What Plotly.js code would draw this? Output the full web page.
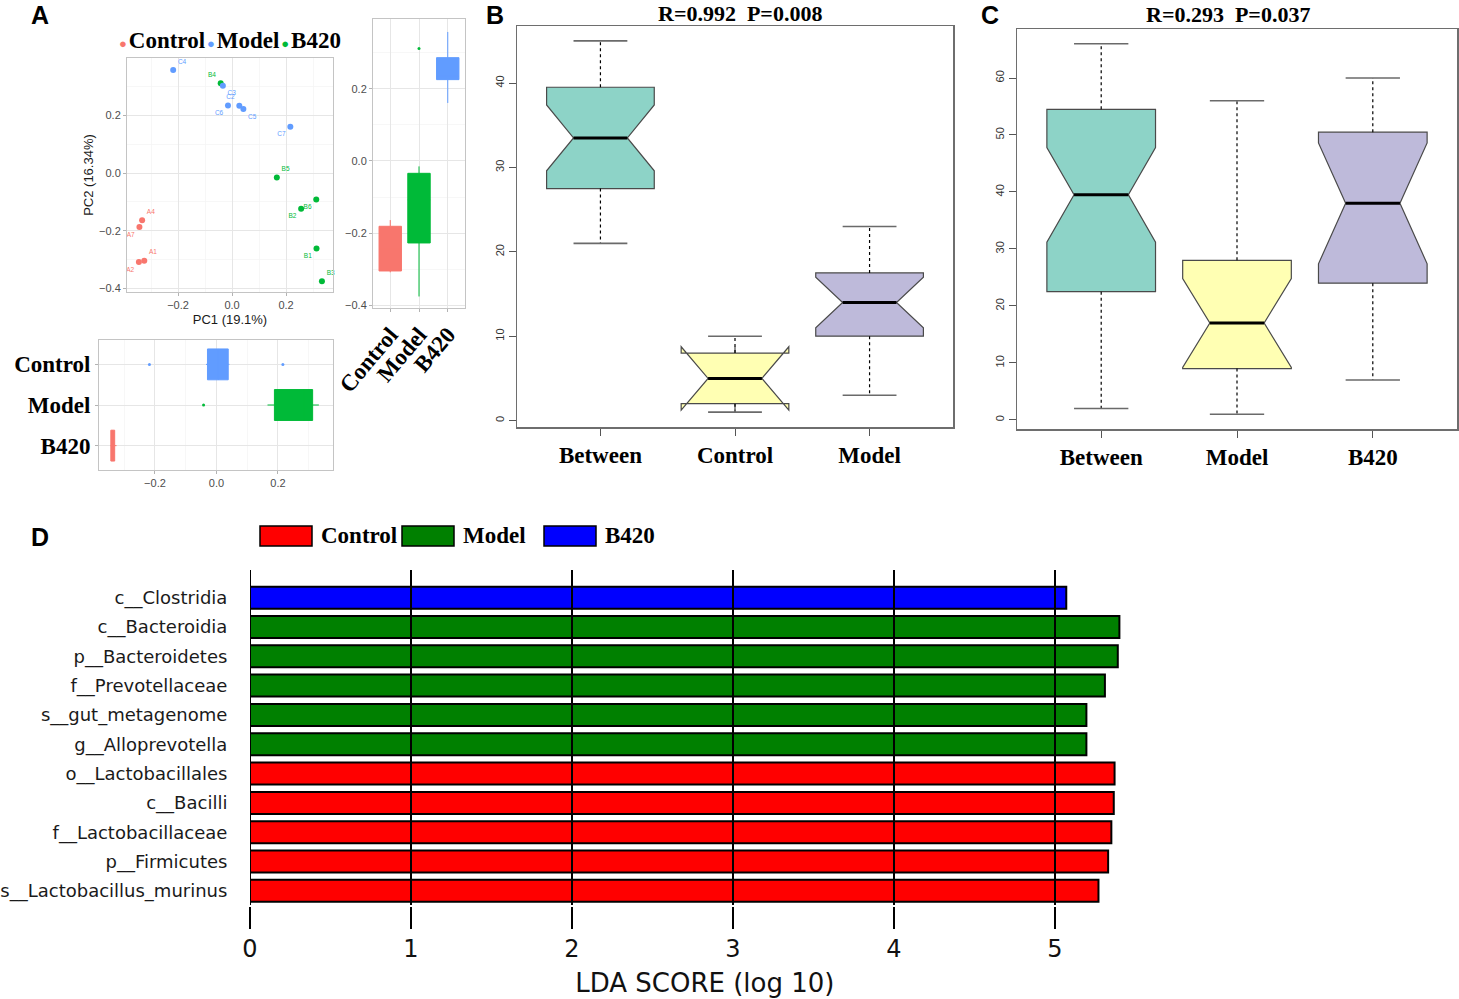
<!DOCTYPE html>
<html><head><meta charset="utf-8">
<script src="https://cdn.plot.ly/plotly-3.0.1.min.js"></script>
<style>html,body{margin:0;padding:0;background:#fff}#chart{width:1459px;height:999px}</style>
</head><body><div id="chart"></div>
<script>
// ---------------- Panel A : PCoA scores ----------------
const controlLabels = ['A4','A7','A1','A2'];
const controlPC1 = [-0.333,-0.343,-0.325,-0.345];
const controlPC2 = [-0.164,-0.187,-0.304,-0.309];
const modelLabels = ['C4','C3','C6','C2','C5','C7'];
const modelPC1 = [-0.218,-0.034,-0.015,0.027,0.042,0.216];
const modelPC2 = [0.358,0.304,0.235,0.234,0.223,0.161];
const b420Labels = ['B4','B5','B6','B2','B1','B3'];
const b420PC1 = [-0.042,0.166,0.312,0.256,0.313,0.333];
const b420PC2 = [0.312,-0.015,-0.092,-0.124,-0.262,-0.376];
const legendOrder = ['Control','Model','B420'];
// marginal boxplots: axis category -> group whose scores are shown (as in the figure)
const marginCats = ['Control','Model','B420'];
const pc2BoxSource = ['Control','B420','Model'];
const pc1BoxSource = ['Model','B420','Control'];

// ---------------- Panel B : ANOSIM distances ----------------
const bTitle = 'R=0.992\u00a0\u00a0P=0.008';
const bCats = ['Between','Control','Model'];
const bMin = [21,1,3];
const bQ1 = [27.5,2,10];
const bMed = [33.5,5,14];
const bQ3 = [39.5,8,17.5];
const bMax = [45,10,23];
const bNotch = [3.9,3.75,3.0];
const bTicks = [0,10,20,30,40];

// ---------------- Panel C : ANOSIM distances ----------------
const cTitle = 'R=0.293\u00a0\u00a0P=0.037';
const cCats = ['Between','Model','B420'];
const cMin = [2,1,7];
const cQ1 = [22.5,9,24];
const cMed = [39.5,17,38];
const cQ3 = [54.5,28,50.5];
const cMax = [66,56,60];
const cNotch = [8.3,7.8,10.6];
const cTicks = [0,10,20,30,40,50,60];

// ---------------- Panel D : LEfSe ----------------
const taxa = ['c__Clostridia','c__Bacteroidia','p__Bacteroidetes','f__Prevotellaceae','s__gut_metagenome','g__Alloprevotella','o__Lactobacillales','c__Bacilli','f__Lactobacillaceae','p__Firmicutes','s__Lactobacillus_murinus'];
const ldaScore = [5.07,5.40,5.39,5.31,5.195,5.195,5.37,5.365,5.35,5.33,5.27];
const taxaGroup = ['B420','Model','Model','Model','Model','Model','Control','Control','Control','Control','Control'];
const ldaTicks = [0,1,2,3,4,5];
const ldaGroups = ['Control','Model','B420'];

// ---------------- styles ----------------
const ggColors = {Control:'#F8766D', Model:'#619CFF', B420:'#00BA38'};
const ldaColors = {Control:'#FF0000', Model:'#008000', B420:'#0000FF'};
const boxFill = ['#8DD3C7','#FFFFB3','#BEBADA'];
const textPos = {
  Control:['top right','bottom left','top right','bottom left'],
  Model:['top right','bottom right','bottom left','top left','bottom right','bottom left'],
  B420:['top left','top right','bottom left','bottom left','bottom left','top right']
};
const W = 1459, H = 999;
const P = v => v / W, Q = v => 1 - v / H;
const SERIF = 'Liberation Serif, Times New Roman, serif';
const SANS = 'Liberation Sans, Arial, sans-serif';
const DJ = 'DejaVu Sans, sans-serif';
const serifBold = s => ({family: SERIF, size: s, weight: 700, color: '#000'});

const groups = {
  Control: {pc1: controlPC1, pc2: controlPC2, labels: controlLabels},
  Model: {pc1: modelPC1, pc2: modelPC2, labels: modelLabels},
  B420: {pc1: b420PC1, pc2: b420PC2, labels: b420Labels}
};

// ggplot2-style box statistics (R quantile type 7, 1.5*IQR whiskers)
function q7(arr, p) {
  const s = [...arr].sort((a, b) => a - b), h = (s.length - 1) * p, lo = Math.floor(h);
  return s[lo] + (h - lo) * (s[Math.min(lo + 1, s.length - 1)] - s[lo]);
}
function boxStats(v) {
  const q1 = q7(v, 0.25), med = q7(v, 0.5), q3 = q7(v, 0.75), iqr = q3 - q1;
  const lo = q1 - 1.5 * iqr, hi = q3 + 1.5 * iqr;
  const inside = v.filter(x => x >= lo && x <= hi);
  return {q1, med, q3, lf: Math.min(...inside), uf: Math.max(...inside), out: v.filter(x => x < lo || x > hi)};
}

const traces = [];
// scatter
['Control','B420','Model'].forEach(g => {
  traces.push({type:'scatter', mode:'markers+text', xaxis:'x', yaxis:'y',
    x: groups[g].pc1, y: groups[g].pc2, text: groups[g].labels,
    textposition: textPos[g], textfont:{family:SANS, size:6.5, color:ggColors[g]},
    marker:{color:ggColors[g], size:6}, hoverinfo:'skip', cliponaxis:false});
});
// marginal PC2 (right, vertical) and PC1 (bottom, horizontal)
function marginBox(cat, g, values, horiz) {
  const s = boxStats(values), c = ggColors[g];
  const box = {type:'box', q1:[s.q1], median:[s.med], q3:[s.q3], lowerfence:[s.lf], upperfence:[s.uf],
    fillcolor:c, line:{color:c, width:1}, whiskerwidth:0, boxpoints:false, hoverinfo:'skip'};
  const pts = {type:'scatter', mode:'markers', marker:{color:c, size:3}, hoverinfo:'skip'};
  if (horiz) {
    Object.assign(box, {orientation:'h', xaxis:'x3', yaxis:'y3', y:[cat], width:0.76});
    Object.assign(pts, {xaxis:'x3', yaxis:'y3', x:s.out, y:s.out.map(() => cat)});
  } else {
    Object.assign(box, {xaxis:'x2', yaxis:'y2', x:[cat], width:0.78});
    Object.assign(pts, {xaxis:'x2', yaxis:'y2', y:s.out, x:s.out.map(() => cat)});
  }
  traces.push(box, pts);
}
marginCats.forEach((cat, i) => marginBox(cat, pc2BoxSource[i], groups[pc2BoxSource[i]].pc2, false));
marginCats.forEach((cat, i) => marginBox(cat, pc1BoxSource[i], groups[pc1BoxSource[i]].pc1, true));

function notchedPanel(xa, ya, mins, q1, med, q3, maxs, notch) {
  q1.forEach((_, i) => {
    traces.push({type:'box', xaxis:xa, yaxis:ya, x:[i], q1:[q1[i]], median:[med[i]], q3:[q3[i]],
      lowerfence:[q1[i]], upperfence:[q3[i]], notched:true, notchspan:[notch[i]], notchwidth:0.25,
      width:0.8, fillcolor: boxFill[i], line:{color:'#4a4a4a', width:1.2}, whiskerwidth:0,
      boxpoints:false, hoverinfo:'skip'});
  });
  const wx = [], wy = [], cx = [], cy = [], mx = [], my = [];
  q1.forEach((_, i) => {
    wx.push(i, i, null, i, i, null); wy.push(q3[i], maxs[i], null, q1[i], mins[i], null);
    cx.push(i - 0.2, i + 0.2, null, i - 0.2, i + 0.2, null); cy.push(maxs[i], maxs[i], null, mins[i], mins[i], null);
    mx.push(i - 0.2, i + 0.2, null); my.push(med[i], med[i], null);
  });
  traces.push({type:'scatter', mode:'lines', xaxis:xa, yaxis:ya, x:wx, y:wy,
    line:{color:'#000', width:1.2, dash:'dot'}, hoverinfo:'skip'});
  traces.push({type:'scatter', mode:'lines', xaxis:xa, yaxis:ya, x:cx, y:cy,
    line:{color:'#6a6a6a', width:1.6}, hoverinfo:'skip'});
  traces.push({type:'scatter', mode:'lines', xaxis:xa, yaxis:ya, x:mx, y:my,
    line:{color:'#000', width:3}, hoverinfo:'skip'});
}
notchedPanel('x4','y4', bMin, bQ1, bMed, bQ3, bMax, bNotch);
notchedPanel('x5','y5', cMin, cQ1, cMed, cQ3, cMax, cNotch);

// LEfSe bars
traces.push({type:'bar', orientation:'h', xaxis:'x6', yaxis:'y6', y: taxa, x: ldaScore,
  marker:{color: taxaGroup.map(g => ldaColors[g]), line:{color:'#000', width:2}}, hoverinfo:'skip'});

// ---------------- axes ----------------
const ggAxis = {showline:true, mirror:true, linecolor:'#c4c4c4', linewidth:1, zeroline:false,
  showgrid:true, gridcolor:'#e6e6e6', gridwidth:1, ticks:'outside', ticklen:3, tickcolor:'#b3b3b3',
  tickfont:{family:SANS, size:11, color:'#4d4d4d'}};
const ggMinor = {dtick:0.1, tick0:0, showgrid:true, gridcolor:'#f3f3f3', gridwidth:0.7, ticks:''};
const rAxis = {showline:true, mirror:true, linecolor:'#6e6e6e', linewidth:1.5, zeroline:false,
  showgrid:false, ticks:'outside', ticklen:7, tickcolor:'#555', tickwidth:1};
const ldaMax = 5.65;

const layout = {
  width: W, height: H, margin:{l:0, r:0, t:0, b:0}, paper_bgcolor:'#fff', plot_bgcolor:'rgba(0,0,0,0)',
  showlegend:false, boxmode:'overlay', bargap:0.25,
  xaxis: Object.assign({}, ggAxis, {domain:[P(127), P(333)], range:[-0.389, 0.374], anchor:'y',
    tickmode:'linear', tick0:0, dtick:0.2, tickformat:'.1f', minor: ggMinor,
    title:{text:'PC1 (19.1%)', font:{family:SANS, size:13, color:'#1a1a1a'}, standoff:4}}),
  yaxis: Object.assign({}, ggAxis, {domain:[Q(292), Q(58)], range:[-0.413, 0.40], anchor:'x',
    tickmode:'array', tickvals:[-0.4,-0.2,0,0.2], tickformat:'.1f', minor: ggMinor,
    title:{text:'PC2 (16.34%)', font:{family:SANS, size:13, color:'#1a1a1a'}, standoff:2}}),
  xaxis2: Object.assign({}, ggAxis, {domain:[P(373), P(465)], anchor:'y2', type:'category',
    categoryarray: marginCats, range:[-0.6, 2.6], tickangle:-50, tickfont: serifBold(23)}),
  yaxis2: Object.assign({}, ggAxis, {domain:[Q(308), Q(19)], anchor:'x2', range:[-0.408, 0.394],
    tickmode:'array', tickvals:[-0.4,-0.2,0,0.2], tickformat:'.1f', minor: ggMinor}),
  xaxis3: Object.assign({}, ggAxis, {domain:[P(99), P(333)], anchor:'y3', range:[-0.382, 0.379],
    tickmode:'linear', tick0:0, dtick:0.2, tickformat:'.1f', minor: ggMinor}),
  yaxis3: Object.assign({}, ggAxis, {domain:[Q(470), Q(340)], anchor:'x3', type:'category',
    categoryarray: marginCats, range:[2.6, -0.6], tickfont: serifBold(23)}),
  xaxis4: Object.assign({}, rAxis, {domain:[P(517), P(953)], anchor:'y4', range:[-0.62, 2.62],
    tickmode:'array', tickvals: bCats.map((_, i) => i), ticktext: bCats, tickfont: serifBold(23)}),
  yaxis4: Object.assign({}, rAxis, {domain:[Q(427), Q(26)], anchor:'x4', range:[-0.76, 46.76],
    tickmode:'array', tickvals: bTicks, tickangle:-90, tickfont:{family:SANS, size:11, color:'#333'}}),
  xaxis5: Object.assign({}, rAxis, {domain:[P(1017), P(1457)], anchor:'y5', range:[-0.62, 2.62],
    tickmode:'array', tickvals: cCats.map((_, i) => i), ticktext: cCats, tickfont: serifBold(23)}),
  yaxis5: Object.assign({}, rAxis, {domain:[Q(429), Q(29)], anchor:'x5', range:[-1.6, 68.6],
    tickmode:'array', tickvals: cTicks, tickangle:-90, tickfont:{family:SANS, size:11, color:'#333'}}),
  xaxis6: {domain:[P(250), P(250 + ldaMax * 161)], anchor:'y6', range:[0, ldaMax], showgrid:false, zeroline:false,
    showline:false, tickmode:'array', tickvals: ldaTicks, ticks:'outside', ticklen:22, tickwidth:2, tickcolor:'#000',
    tickfont:{family:DJ, size:24, color:'#111'},
    title:{text:'LDA SCORE (log 10)', font:{family:DJ, size:26, color:'#111'}, standoff:11}},
  yaxis6: {domain:[Q(905.5), Q(583)], anchor:'x6', type:'category', autorange:'reversed',
    showgrid:false, zeroline:false, showline:false, ticks:'outside', ticklen:18, tickcolor:'rgba(0,0,0,0)',
    tickfont:{family:DJ, size:18, color:'#1a1a1a'}},
  shapes: [],
  annotations: []
};

// LEfSe grid lines drawn over the bars
ldaTicks.forEach(t => layout.shapes.push({type:'line', xref:'x6', yref:'paper', x0:t, x1:t,
  y0:Q(905), y1:Q(570), line:{color:'#000', width:2}, layer:'above'}));

// LEfSe legend
const legendX = [260, 402, 544];
ldaGroups.forEach((g, i) => {
  layout.shapes.push({type:'rect', xref:'paper', yref:'paper', x0:P(legendX[i]), x1:P(legendX[i] + 52),
    y0:Q(546), y1:Q(526), fillcolor: ldaColors[g], line:{color:'#000', width:1.5}});
  layout.annotations.push({xref:'paper', yref:'paper', x:P(legendX[i] + 59), y:Q(535), xanchor:'left',
    yanchor:'middle', text:g, showarrow:false, font: serifBold(23)});
});

// panel A legend
layout.annotations.push({xref:'paper', yref:'paper', x:P(230), y:Q(41), xanchor:'center', yanchor:'middle',
  showarrow:false, font: serifBold(23),
  text: legendOrder.map(g => '<span style="color:' + ggColors[g] + ';font-size:13px">●</span>\u200a' + g).join('\u200a')});

// panel titles
[[bTitle, 740, 13], [cTitle, 1228, 14]].forEach(([t, x, y]) => layout.annotations.push({xref:'paper', yref:'paper',
  x:P(x), y:Q(y), xanchor:'center', yanchor:'middle', showarrow:false, text:t, font: serifBold(22)}));

// panel letters
[['A', 40, 15], ['B', 495, 15], ['C', 990, 15], ['D', 40, 537]].forEach(([t, x, y]) => layout.annotations.push({
  xref:'paper', yref:'paper', x:P(x), y:Q(y), xanchor:'center', yanchor:'middle', showarrow:false, text:t,
  font:{family:SANS, size:25, weight:700, color:'#000'}}));

Plotly.newPlot('chart', traces, layout, {staticPlot:true, displayModeBar:false});
</script>
</body></html>
